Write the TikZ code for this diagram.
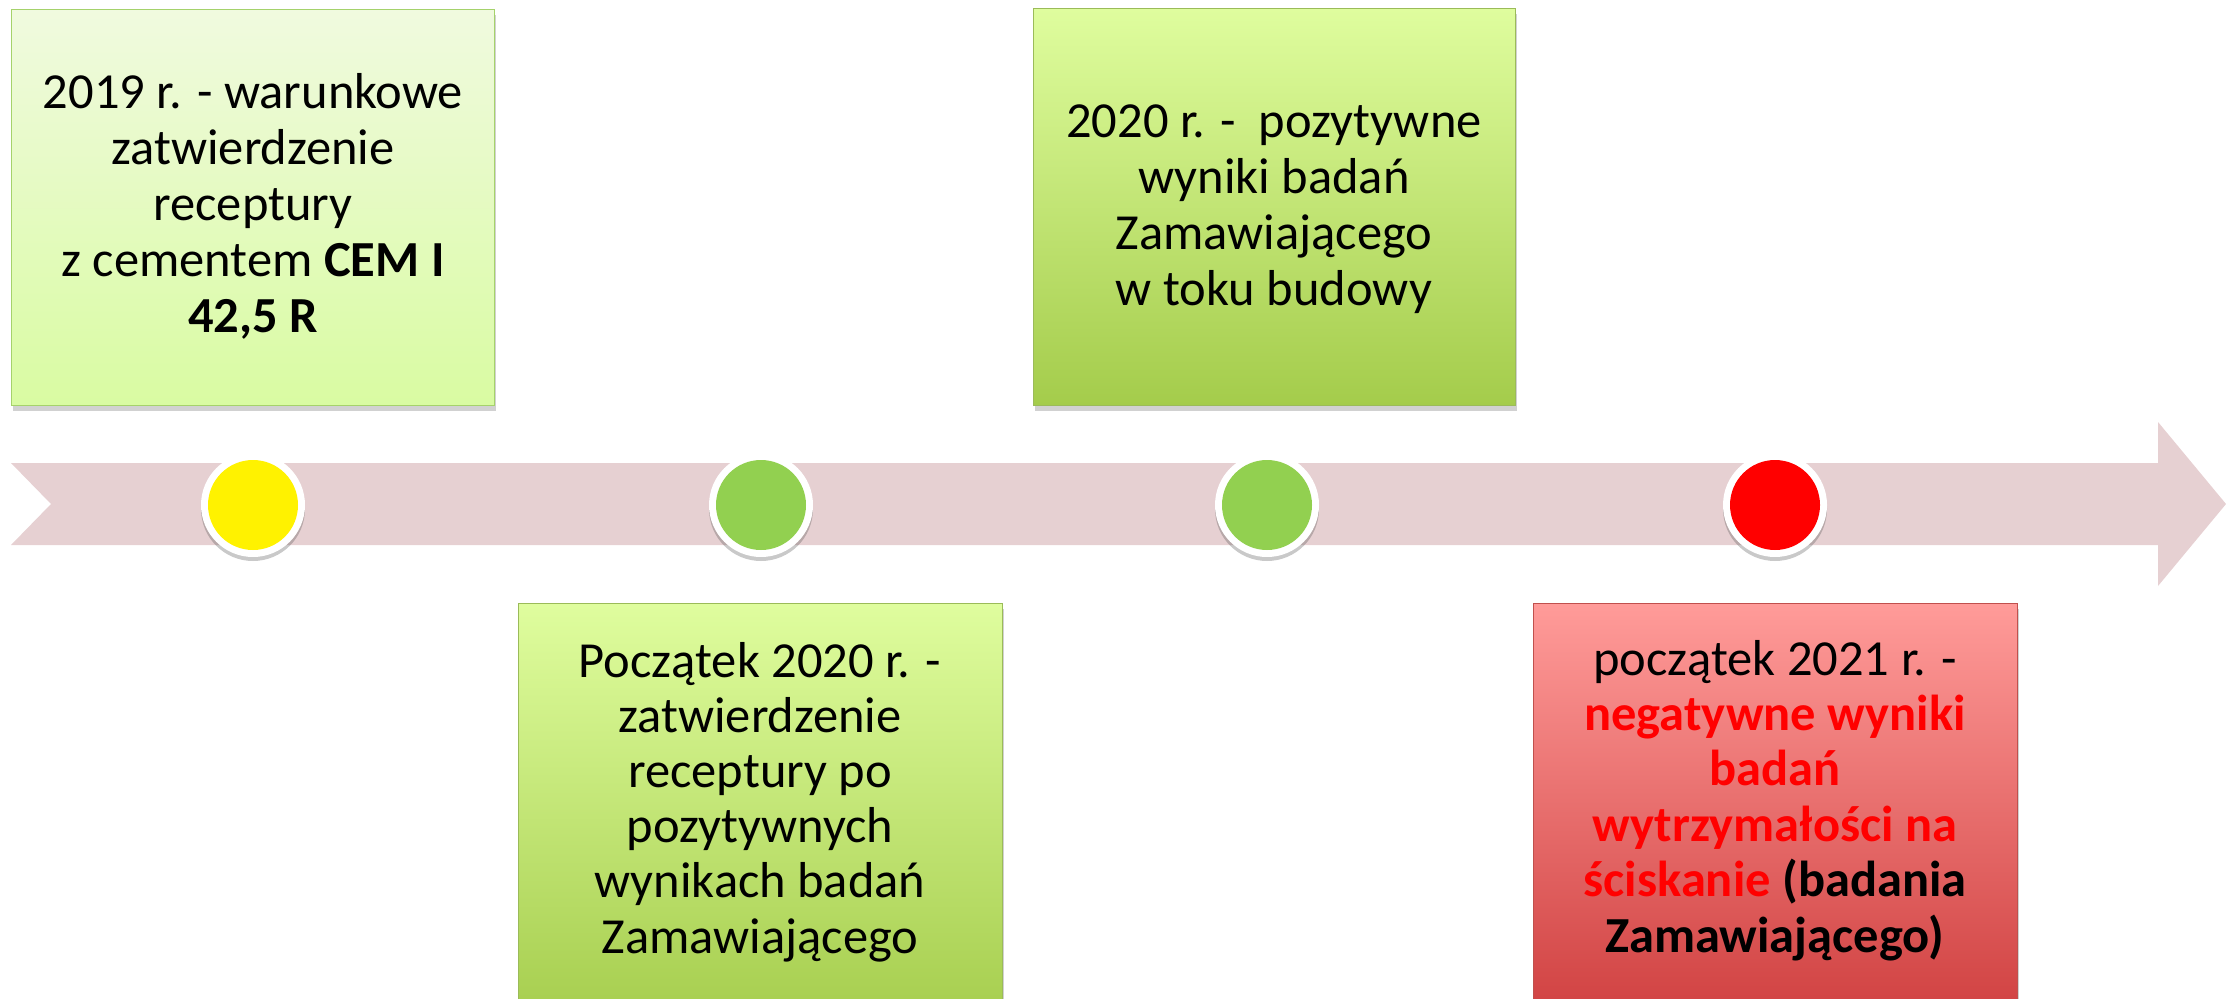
\documentclass[tikz,border=0pt]{standalone}
\usepackage{fontspec}
\setmainfont{Carlito}
\usetikzlibrary{shadows}
\definecolor{band}{HTML}{E6D0D2}
\definecolor{bOneTop}{HTML}{F0FADF}
\definecolor{bOneBot}{HTML}{D9FBA2}
\definecolor{bOneLine}{HTML}{A5D26B}
\definecolor{gTop}{HTML}{DFFD9E}
\definecolor{gBot}{HTML}{A4CC4B}
\definecolor{gLine}{HTML}{9BBB59}
\definecolor{rTop}{HTML}{FF9B99}
\definecolor{rBot}{HTML}{CE3D3D}
\definecolor{rLine}{HTML}{C0504D}
\definecolor{dotgreen}{HTML}{92D050}
\definecolor{negred}{HTML}{FF0000}
\tikzset{
  boxbase/.style={rectangle, inner sep=0pt, anchor=north west, line width=1.3pt,
    drop shadow={shadow xshift=1pt, shadow yshift=-5pt, opacity=0.3, fill=black!60}},
  lightbox/.style={boxbase, draw=bOneLine, top color=bOneTop, bottom color=bOneBot},
  greenbox/.style={boxbase, draw=gLine, top color=gTop, bottom color=gBot},
  redbox/.style={boxbase, draw=rLine, top color=rTop, bottom color=rBot},
  ring/.style={circle, fill=white, minimum size=104pt, inner sep=0pt,
    drop shadow={shadow xshift=0pt, shadow yshift=-4pt, opacity=0.3, fill=black!70}},
  dot/.style={circle, minimum size=90pt, inner sep=0pt},
  txt/.style={anchor=base, inner sep=0pt},
}
\newcommand{\tbl}[2]{{\fontsize{50.5}{#1}\selectfont\setlength{\tabcolsep}{0pt}\begin{tabular}[t]{c}#2\end{tabular}}}
\begin{document}
\begin{tikzpicture}[x=1pt,y=-1pt]
\useasboundingbox (0,0) rectangle (2226,998);
\clip (0,0) rectangle (2226,998);
% timeline band
\fill[band] (11,463) -- (2158,463) -- (2158,422) -- (2226,504) -- (2158,586)
  -- (2158,545) -- (11,545) -- (51,504) -- cycle;
% boxes
\node[lightbox, minimum width=483pt, minimum height=396pt] (b1) at (11,9) {};
\node[greenbox, minimum width=482pt, minimum height=397pt] (b3) at (1033,8) {};
\node[greenbox, minimum width=484pt, minimum height=430pt] (b2) at (518,603) {};
\node[redbox, minimum width=484pt, minimum height=430pt] (b4) at (1533,603) {};
% circles
\node[ring] (r1) at (253,505) {};
\node[dot, fill=yellow] (c1) at (r1) {};
\node[ring] (r2) at (761,505) {};
\node[dot, fill=dotgreen] (c2) at (r2) {};
\node[ring] (r3) at (1267,505) {};
\node[dot, fill=dotgreen] (c3) at (r3) {};
\node[ring] (r4) at (1775,505) {};
\node[dot, fill=negred] (c4) at (r4) {};
% texts
\node[txt] (t1) at (253,108) {\tbl{56}{2019 r. - warunkowe\\ zatwierdzenie\\ receptury\\ z cementem \textbf{CEM I}\\ \textbf{42,5 R}}};
\node[txt] (t3) at (1274,137) {\tbl{56}{2020 r. -\ \ pozytywne\\ wyniki badań\\ Zamawiającego\\ w toku budowy}};
\node[txt] (t2) at (760,677) {\tbl{55.2}{Początek 2020 r. -\\ zatwierdzenie\\ receptury po\\ pozytywnych\\ wynikach badań\\ Zamawiającego}};
\node[txt] (t4) at (1775,675) {\tbl{55.4}{początek 2021 r. -\\ \textbf{\color{negred}negatywne wyniki}\\ \textbf{\color{negred}badań}\\ \textbf{\color{negred}wytrzymałości na}\\ \textbf{{\color{negred}ściskanie} (badania}\\ \textbf{Zamawiającego)}}};
\end{tikzpicture}
\end{document}
